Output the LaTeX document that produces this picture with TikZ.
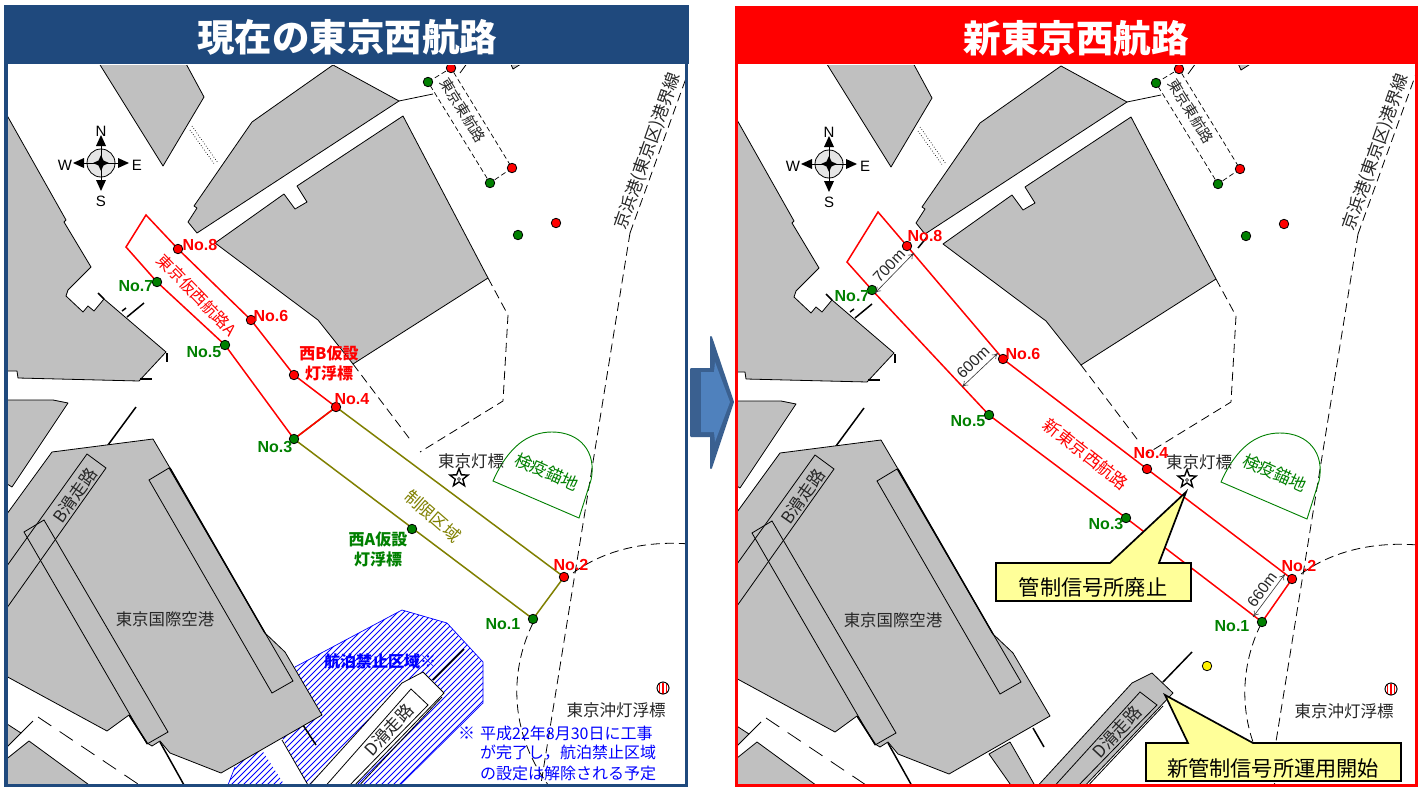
\documentclass[tikz,border=0pt]{standalone}
\usepackage{fontspec}
\setmainfont{Noto Sans CJK JP}
\newfontfamily\lat{Liberation Sans}
\usetikzlibrary{shapes.geometric,arrows.meta}
\definecolor{landg}{RGB}{192,192,192}
\definecolor{hdblue}{RGB}{31,73,125}
\definecolor{olivel}{RGB}{128,128,0}
\definecolor{grn}{RGB}{0,128,0}
\definecolor{calloutc}{RGB}{255,255,153}
\definecolor{arrowd}{RGB}{58,96,144}
\definecolor{arrowl}{RGB}{79,129,189}
\newcommand{\sz}[1]{\fontsize{#1}{#1}\selectfont}
\tikzset{
  land/.style={fill=landg,draw=black,line width=.8pt,line join=round},
  edge/.style={draw=black,line width=.8pt},
  thick line/.style={draw=black,line width=1.5pt},
  dsh/.style={draw=black,line width=.8pt,dash pattern=on 9pt off 5pt},
  dsh small/.style={draw=black,line width=.7pt,dash pattern=on 5pt off 3pt},
  route/.style={draw=red,line width=1.5pt,line join=miter},
  dotr/.style={circle,draw=black,fill=red,minimum size=9.5pt,inner sep=0pt,line width=.8pt},
  dotg/.style={circle,draw=black,fill=grn,minimum size=9.5pt,inner sep=0pt,line width=.8pt},
  doty/.style={circle,draw=black,fill=yellow,minimum size=9.5pt,inner sep=0pt,line width=.8pt},
  lab/.style={inner sep=0pt,font=\sz{16.5},text=black!85},
  nored/.style={inner sep=0pt,font=\lat\bfseries\sz{16},text=red},
  nogrn/.style={inner sep=0pt,font=\lat\bfseries\sz{16},text=grn},
  boldred/.style={inner sep=0pt,font=\bfseries\fontsize{16}{20}\selectfont,text=red,align=center},
  boldgrn/.style={inner sep=0pt,font=\bfseries\fontsize{16}{20}\selectfont,text=grn,align=center},
  legend/.style={inner sep=0pt,font=\sz{16},text=blue,anchor=west},
  compl/.style={inner sep=0pt,font=\lat\sz{15},text=black},
  title/.style={inner sep=0pt,font=\bfseries\sz{37.5},text=white},
  callout/.style={fill=calloutc,draw=black,line width=1.7pt,line join=miter},
  calltext/.style={inner sep=0pt,font=\sz{21.2},text=black},
  dimline/.style={draw=black!80,line width=.6pt,<->,>={To[length=6pt,width=6pt]}},
  dimtext/.style={inner sep=0pt,font=\lat\sz{15.5},text=black!85},
}
\newcommand{\basemap}[1]{%
  \fill[white] (8,65) rectangle (686,790);
  \path[land] (97,60)--(184,60)--(204,97)--(163,166)--cycle;
  \path[land] (4,110)--(66,220)--(64,222)--(91,267)--(68,290)--(66,296)--(83,312)--(88,306)--(94,311)--(104,299)--(166,352)--(139,381)--(18,378)--(17,371)--(4,371)--cycle;
  \path[thick line] (98,293)--(104,299);
  \path[thick line] (127,317)--(144,303);
  \path[thick line] (122,311)--(126,308);
  \path[thick line] (167,353)--(167,362);
  \path[thick line] (140,379)--(152,379);
  \path[land] (333,65)--(399,101)--(197,233)--(188,222)--(197,208)--(194,206)--(252,122)--cycle;
  \path[edge] (399,101)--(433,94);
  \path[edge] (460,73)--(468,62);
  \path[land] (509,60)--(513,69)--(524,62)--(524,60)--cycle;
  \path[land] (215,243)--(284,194)--(295,209)--(307,202)--(297,186)--(403,116)--(488,278)--(353,364)--(318,320)--cycle;
  \path[draw=black,line width=.7pt,dotted] (192,126)--(218,163);
  \path[draw=black,line width=.7pt,dotted] (190,130)--(215,165);
  \path[dsh] (353,364)--(412,442);
  \path[dsh] (488,278)--(508,315)--(503,401)--(420,452);
  \path[dsh] (630,233)--(540,790);
  \path[dsh] (630,233)--(689,70);
  \path[dsh] (573,573)..controls (600,553) and (640,540)..(690,544);
  \path[dsh] (533,623)..controls (512,665) and (505,730)..(552,790);
  \path[land] (4,400)--(53,400)--(68,403)--(12,487)--(4,482)--cycle;
  \path[land] (4,722)--(21,733)--(4,750)--cycle;
  \path[edge] (21,733)--(33,721);
  \path[land] (4,761)--(29,741)--(96,790)--(4,790)--cycle;
  \path[draw=black,line width=.8pt,dash pattern=on 16pt off 10pt] (38,717)--(138,784);
  \path[thick line] (108,445)--(136,407);
  \path[thick line] (160,742)--(184,785);
}
\newcommand{\airport}[1]{%
  \path[land] (4,518)--(52,452)--(153,439)--(170,468)--(265,633)--(285,652)--(322,715)--(221,773)--(170,753)--(160,741)--(152,746)--(147,743)--(129,715)--(107,731)--(4,675)--cycle;
  \path[draw=black,line width=1.4pt] (170,468)--(265,633);
  \path[edge] (149,480)--(169,468)--(293,681)--(272,693)--cycle;
  \path[edge] (24,532)--(44,520)--(168,732)--(147,744)--cycle;
  \path[edge] (4,570)--(87,454)--(106,468)--(4,612);
  \path[thick line] (129,715)--(147,743);
  \node[lab,font=\sz{16.4}] (#1air) at (165,619) {東京国際空港};
  \node[lab,font=\sz{17},rotate=55] (#1brw) at (75,495) {B滑走路};
}
\newcommand{\overlay}[1]{%
  \path[draw=black,line width=.8pt,fill=black!10] (101,163) circle (14);
  \path[draw=black,line width=.9pt] (84,163)--(118,163) (101,146)--(101,180);
  \fill[black] (101,155)--(103.5,160.5)--(109,163)--(103.5,165.5)--(101,171)--(98.5,165.5)--(93,163)--(98.5,160.5)--cycle;
  \fill[black] (101,135)--(106,146)--(96,146)--cycle;
  \fill[black] (101,191)--(106,180)--(96,180)--cycle;
  \fill[black] (129,163)--(118,158)--(118,168)--cycle;
  \fill[black] (73,163)--(84,158)--(84,168)--cycle;
  \node[compl] (#1cn) at (101,131) {N};
  \node[compl] (#1cs) at (101,201) {S};
  \node[compl] (#1cw) at (65,165) {W};
  \node[compl] (#1ce) at (137,165) {E};
  \path[dsh small] (428,82)--(451,68)--(512,168)--(490,183)--cycle;
  \node[dotg] (#1eg1) at (428,82) {};
  \node[dotr] (#1er1) at (451,68) {};
  \node[dotr] (#1er2) at (512,168) {};
  \node[dotg] (#1eg2) at (490,183) {};
  \node[lab,font=\sz{14.5},rotate=-58] (#1etx) at (463,110) {東京東航路};
  \node[dotr] (#1r9) at (556,223) {};
  \node[dotg] (#1g9) at (518,235) {};
  \node[lab,font=\sz{17},rotate=70.5] (#1port) at (648,151) {京浜港(東京区)港界線};
  \path[draw=grn,line width=.9pt] (493,481)..controls (508,447) and (528,432)..(552,432)..controls (580,432) and (597,452)..(591,480)--(579,518)--cycle;
  \node[lab,font=\sz{17},text=grn,rotate=-24] (#1kk) at (547,472) {検疫錨地};
  \node[lab] (#1ltx) at (471,461) {東京灯標};
  \node[star,star points=5,star point ratio=2.4,draw=black,fill=white,line width=1.4pt,minimum size=19pt,inner sep=0pt] (#1star) at (459,478) {};
  \path[draw=black,line width=.5pt] (459,479) circle (1.5);
  \node[lab] (#1otx) at (616,710) {東京沖灯浮標};
  \path[draw=black,line width=.7pt,fill=white] (663,688) circle (6);
  \path[draw=red,line width=1.1pt] (659.5,683.5)--(659.5,692.5) (663,682.5)--(663,693.5) (666.5,683.5)--(666.5,692.5);
  \path[draw=black,line width=.7pt] (663,688) circle (6);
}
\begin{document}
\begin{tikzpicture}[x=1pt,y=-1pt]
\useasboundingbox (0,0) rectangle (1424,787);
\fill[white] (0,0) rectangle (1424,787);

\begin{scope}
\clip (8,65) rectangle (686,785);
\basemap{L}
\begin{scope}
  \clip (226,790)--(235,767)--(295,667)--(402,610)--(447,623)--(483,662)--(483,703)--(395,790)--cycle;
  \fill[white] (220,600) rectangle (490,790);
  \foreach \k in {0,...,80}{
    \draw[blue,line width=.9pt] ({160+\k*6},790)--({460+\k*6},490);
  }
\end{scope}
\path[draw=blue,line width=.7pt] (226,790)--(235,767) (295,667)--(402,610)--(447,623)--(483,662)--(483,703)--(395,790);
\path[fill=white] (262,750)--(282,738)--(310,790)--(288,790)--cycle;
\path[edge] (282,740)--(308,785);
\path[fill=white,draw=black,line width=.8pt] (305,790)--(402,683)--(423,672)--(444,693)--(350,790)--cycle;
\path[edge] (322,790)--(411,689)--(428,705)--(345,790);
\path[edge] (355,790)--(442,697);
\node[lab,font=\sz{17},rotate=47] (Ldrw) at (389,730) {D滑走路};
\path[thick line] (433,680)--(464,649);
\path[thick line] (303,725)--(316,745);
\airport{L}
\overlay{L}
\coordinate (Lc1) at (146,215);
\coordinate (Lc2) at (126,247);
\node[inner sep=0pt] (Ln8) at (178,249) {};
\node[inner sep=0pt] (Ln7) at (157,282) {};
\node[inner sep=0pt] (Ln6) at (251,320) {};
\node[inner sep=0pt] (Ln5) at (225,345) {};
\node[inner sep=0pt] (Lnb) at (294,375) {};
\node[inner sep=0pt] (Ln4) at (336,407) {};
\node[inner sep=0pt] (Ln3) at (294,439) {};
\node[inner sep=0pt] (Ln2) at (564,577) {};
\node[inner sep=0pt] (Ln1) at (533,619) {};
\path[draw=olivel,line width=1.5pt] (Ln3.center)--(Ln4.center)--(Ln2.center)--(Ln1.center)--cycle;
\path[route] (Lc1)--(Ln8.center)--(Ln6.center)--(Lnb.center)--(Ln4.center)--(Ln3.center)--(Ln5.center)--(Ln7.center)--(Lc2)--cycle;
\node[dotr] at (Ln8) {};
\node[dotg] at (Ln7) {};
\node[dotr] at (Ln6) {};
\node[dotg] at (Ln5) {};
\node[dotr] at (Lnb) {};
\node[dotr] at (Ln4) {};
\node[dotg] at (Ln3) {};
\node[dotr] at (Ln2) {};
\node[dotg] at (Ln1) {};
\node[dotg] (Lwa) at (412,529) {};
\node[nored] (Lt8) at (200,245) {No.8};
\node[nogrn] (Lt7) at (136,286) {No.7};
\node[nored] (Lt6) at (271,316) {No.6};
\node[nogrn] (Lt5) at (204,352) {No.5};
\node[nored] (Lt4) at (352,399) {No.4};
\node[nogrn] (Lt3) at (275,447) {No.3};
\node[nored] (Lt2) at (571,565) {No.2};
\node[nogrn] (Lt1) at (503,624) {No.1};
\node[boldred] (Ltb) at (329,363) {西B仮設\\灯浮標};
\node[boldgrn] (Lta) at (378,549) {西A仮設\\灯浮標};
\node[inner sep=0pt,font=\sz{16},text=red,rotate=-46] (Ltr) at (197,295) {東京仮西航路A};
\node[inner sep=0pt,font=\sz{17},text=olivel,rotate=-41] (Ltl) at (433,516) {制限区域};
\node[inner sep=0pt,font=\bfseries\sz{16},text=blue] (Lth) at (380,661) {航泊禁止区域※};
\node[legend,font=\sz{17}] (Lla) at (458,733) {※};
\node[legend] (Ll1) at (480,733) {平成22年8月30日に工事};
\node[legend] (Ll2) at (480,753) {が完了し，航泊禁止区域};
\node[legend] (Ll3) at (480,773) {の設定は解除される予定};
\end{scope}

\begin{scope}[shift={(728,1)}]
\clip (9,64) rectangle (688,785);
\basemap{R}
\path[land] (261,753)--(282,741)--(310,790)--(287,790)--cycle;
\path[land] (305,790)--(404,682)--(424,672)--(445,692)--(352,790)--cycle;
\path[edge] (322,790)--(412,691)--(429,704)--(345,790);
\path[edge] (355,790)--(435,705);
\node[lab,font=\sz{17},rotate=47] (Rdrw) at (389,731) {D滑走路};
\path[thick line] (435,681)--(464,651);
\path[thick line] (305,727)--(316,746);
\path[thick line] (199,236)--(190,247);
\airport{R}
\overlay{R}
\node[doty] (Ryd) at (479,665) {};
\end{scope}

\coordinate (Rc1) at (878,212);
\coordinate (Rc2) at (847,262);
\node[inner sep=0pt] (Rn8) at (907,246) {};
\node[inner sep=0pt] (Rn7) at (872,290) {};
\node[inner sep=0pt] (Rn6) at (1003,359) {};
\node[inner sep=0pt] (Rn5) at (989,415) {};
\node[inner sep=0pt] (Rn4) at (1147,469) {};
\node[inner sep=0pt] (Rn3) at (1126,518) {};
\node[inner sep=0pt] (Rn2) at (1292,579) {};
\node[inner sep=0pt] (Rn1) at (1262,622) {};
\path[route] (Rc1)--(Rn8.center)--(Rn6.center)--(Rn4.center)--(Rn2.center)--(Rn1.center)--(Rn3.center)--(Rn5.center)--(Rn7.center)--(Rc2)--cycle;
\node[dotr] at (Rn8) {};
\node[dotg] at (Rn7) {};
\node[dotr] at (Rn6) {};
\node[dotg] at (Rn5) {};
\node[dotr] at (Rn4) {};
\node[dotg] at (Rn3) {};
\node[dotr] at (Rn2) {};
\node[dotg] at (Rn1) {};
\node[nored] (Rt8) at (925,236) {No.8};
\node[nogrn] (Rt7) at (852,296) {No.7};
\node[nored] (Rt6) at (1023,354) {No.6};
\node[nogrn] (Rt5) at (968,421) {No.5};
\node[nored] (Rt4) at (1151,453) {No.4};
\node[nogrn] (Rt3) at (1106,524) {No.3};
\node[nored] (Rt2) at (1299,566) {No.2};
\node[nogrn] (Rt1) at (1232,626) {No.1};
\node[inner sep=0pt,font=\sz{17},text=red,rotate=-38] (Rtr) at (1086,454) {新東京西航路};
\coordinate (Rd1a) at (914,253); \coordinate (Rd1b) at (875,293);
\coordinate (Rd2a) at (998,353); \coordinate (Rd2b) at (962,387);
\coordinate (Rd3a) at (1285,574); \coordinate (Rd3b) at (1253,617);
\path[dimline] (Rd1a)--(Rd1b);
\path[dimline] (Rd2a)--(Rd2b);
\path[dimline] (Rd3a)--(Rd3b);
\node[dimtext,rotate=47] (Rdt1) at (889,266) {700m};
\node[dimtext,rotate=44] (Rdt2) at (973,362) {600m};
\node[dimtext,rotate=54] (Rdt3) at (1262,590) {660m};
\path[callout] (996,563)--(1110,563)--(1186,492)--(1159,563)--(1191,563)--(1191,601)--(996,601)--cycle;
\node[calltext] (Rcall1) at (1093,587) {管制信号所廃止};
\path[callout] (1146,743)--(1188,743)--(1165,695)--(1253,743)--(1401,743)--(1401,781)--(1146,781)--cycle;
\node[calltext] (Rcall2) at (1273,768) {新管制信号所運用開始};

\path[draw=hdblue,line width=3.5pt] (6,64)--(6,785.5)--(686.5,785.5)--(686.5,64);
\fill[hdblue] (4,5) rectangle (689,64);
\node[title] (Lhead) at (347,37) {現在の東京西航路};
\path[draw=red,line width=3.5pt] (736.5,64)--(736.5,785.5)--(1416.5,785.5)--(1416.5,64);
\fill[red] (735,6) rectangle (1418,64);
\node[title] (Rhead) at (1076,38) {新東京西航路};

\path[fill=arrowd,draw=arrowd,line width=2pt,line join=round] (691,369)--(711,369)--(711,337)--(733,402)--(711,468)--(711,436)--(691,436)--cycle;
\path[fill=arrowl] (701,372)--(714,372)--(715,362)--(730,402)--(715,442)--(714,432)--(701,432)--cycle;
\end{tikzpicture}
\end{document}
